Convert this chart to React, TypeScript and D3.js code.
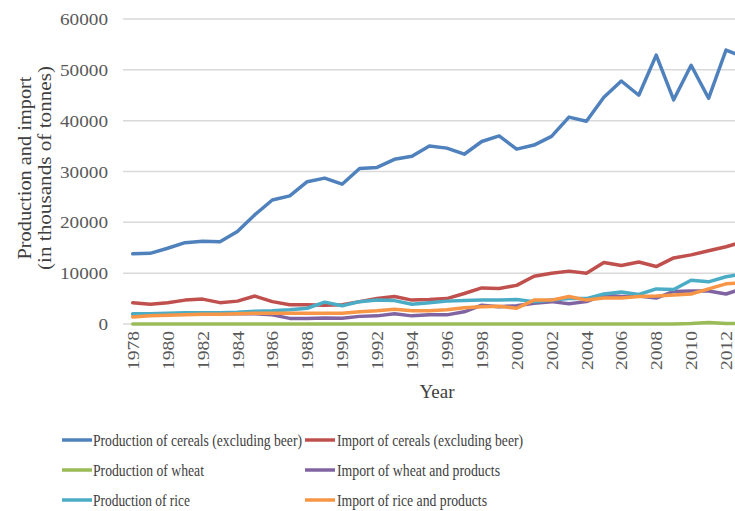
import React from "react";
import * as d3 from "d3";

const years = [1978,1979,1980,1981,1982,1983,1984,1985,1986,1987,1988,1989,1990,1991,1992,1993,1994,1995,1996,1997,1998,1999,2000,2001,2002,2003,2004,2005,2006,2007,2008,2009,2010,2011,2012,2013];
const yTicks = [0, 10000, 20000, 30000, 40000, 50000, 60000];
const xTickYears = [1978,1980,1982,1984,1986,1988,1990,1992,1994,1996,1998,2000,2002,2004,2006,2008,2010,2012];

const prodCereals = [13800,13900,14900,16000,16300,16200,18200,21500,24400,25200,28000,28700,27500,30600,30800,32400,33000,35000,34600,33400,35900,37000,34400,35200,36900,40700,39900,44600,47800,45000,52900,44100,50900,44400,53900,52500];
const importCereals = [4200,3900,4200,4700,4900,4200,4500,5500,4400,3800,3800,3700,3800,4400,5000,5400,4700,4800,5000,6000,7100,7000,7600,9400,10000,10400,10000,12100,11500,12200,11300,13000,13600,14400,15200,16200];
const prodWheat = [0,0,0,0,0,0,0,0,0,0,0,0,0,0,0,0,0,0,0,0,0,0,0,0,0,0,0,0,0,0,0,0,100,300,100,50];
const importWheat = [1900,1900,1900,2000,2000,2000,2000,2000,1800,1100,1100,1200,1150,1500,1600,2000,1600,1800,1800,2400,3700,3400,3600,4100,4400,4000,4400,5700,5400,5500,5100,6400,6500,6500,5900,7000];
const prodRice = [2000,2000,2100,2200,2200,2200,2300,2500,2600,2800,3100,4300,3600,4400,4700,4600,3900,4200,4500,4600,4700,4700,4800,4400,4700,5000,5000,5900,6300,5800,6900,6800,8600,8300,9300,9900];
const importRice = [1400,1600,1700,1800,1900,1900,2000,2100,2100,2100,2100,2100,2100,2400,2600,2900,2600,2600,2800,3200,3400,3500,3100,4700,4700,5400,4700,5100,5100,5400,5500,5700,5900,6900,7900,8100];

const seriesNames = [
  "Production of cereals (excluding beer)",
  "Import of cereals (excluding beer)",
  "Production of wheat",
  "Import of wheat and products",
  "Production of rice",
  "Import of rice and products",
];
const seriesColors = ["#4F81BD", "#C0504D", "#9BBB59", "#8064A2", "#4BACC6", "#F79646"];
const seriesData = [prodCereals, importCereals, prodWheat, importWheat, prodRice, importRice];
const legendWidths = [209, 186, 111, 163, 97, 150];

const FONT = "'Liberation Serif', 'DejaVu Serif', serif";

export default function App() {
  const W = 735, H = 511;
  const x = d3.scaleBand<number>().domain(years).range([124, 124 + 17.45 * years.length]);
  const y = d3.scaleLinear().domain([0, 60000]).range([324, 19]);
  const cx = (yr: number) => (x(yr) as number) + x.bandwidth() / 2;
  const line = d3.line<number>().x((_, i) => cx(years[i])).y((d) => y(d)).curve(d3.curveLinear);

  const legendPos = [
    { lx: 62, tx: 93, ty: 440 },
    { lx: 305, tx: 337, ty: 440 },
    { lx: 62, tx: 93, ty: 470 },
    { lx: 305, tx: 337, ty: 470 },
    { lx: 62, tx: 93, ty: 500 },
    { lx: 305, tx: 337, ty: 500 },
  ];

  return (
    <svg width={W} height={H} style={{ position: "absolute", left: 0, top: 0, background: "#fff" }} fontFamily={FONT}>
      <rect x={0} y={0} width={W} height={H} fill="#fff" />
      {yTicks.map((t) => (
        <g key={t}>
          <line x1={123} x2={W} y1={y(t)} y2={y(t)} stroke="#d9d9d9" strokeWidth={1.5} />
          <text x={108} y={y(t)} dy="0.35em" textAnchor="end" fontSize={17.5} fill="#595959" textLength={t === 0 ? 9.6 : 48} lengthAdjust="spacingAndGlyphs">{t}</text>
        </g>
      ))}
      {xTickYears.map((yr) => (
        <text key={yr} transform={`translate(${cx(yr)},331) rotate(-90)`} textAnchor="end" dy="0.35em" fontSize={17.5} fill="#595959" textLength={39} lengthAdjust="spacingAndGlyphs">{yr}</text>
      ))}
      <text x={437} y={398} textAnchor="middle" fontSize={19} fill="#404040">Year</text>
      <g transform="translate(25,168) rotate(-90)">
        <text textAnchor="middle" y={0} dy="0.35em" fontSize={18} fill="#404040" textLength={183} lengthAdjust="spacingAndGlyphs">Production and import</text>
        <text textAnchor="middle" y={20} dy="0.35em" fontSize={18} fill="#404040" textLength={204} lengthAdjust="spacingAndGlyphs">(in thousands of tonnes)</text>
      </g>
      <g>
        {seriesData.map((s, i) => (
          <path key={i} d={line(s) as string} fill="none" stroke={seriesColors[i]} strokeWidth={3.5} strokeLinejoin="round" strokeLinecap="round" />
        ))}
      </g>
      {seriesNames.map((n, i) => {
        const p = legendPos[i];
        return (
          <g key={n}>
            <line x1={p.lx} x2={p.lx + 30} y1={p.ty} y2={p.ty} stroke={seriesColors[i]} strokeWidth={3.5} />
            <text x={p.tx} y={p.ty} dy="0.35em" fontSize={17} fill="#404040" textLength={legendWidths[i]} lengthAdjust="spacingAndGlyphs">{n}</text>
          </g>
        );
      })}
    </svg>
  );
}
